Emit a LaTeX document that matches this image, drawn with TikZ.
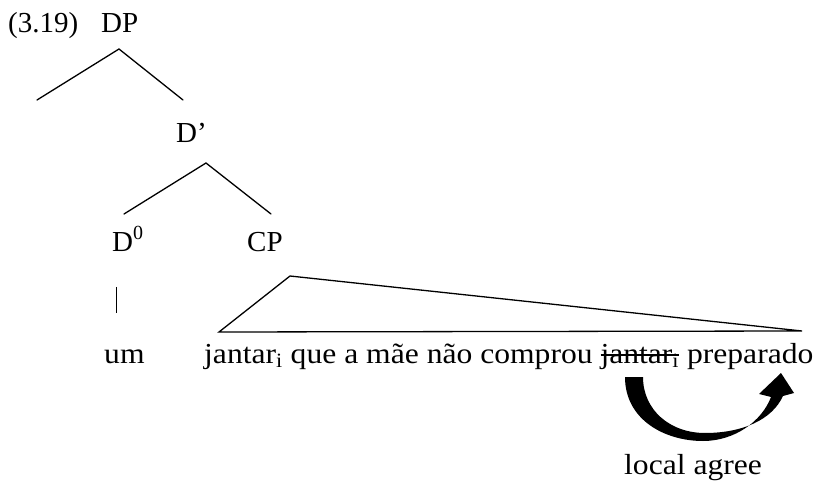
\documentclass[tikz,border=0pt]{standalone}
\usepackage{fontspec}
\setmainfont{Liberation Serif}
\newfontfamily\widefont{Liberation Serif}[FakeStretch=1.09]
\newsavebox\mystrikebox
\newcommand\mystrike[1]{\sbox\mystrikebox{#1}\rlap{\rule[7.5pt]{\wd\mystrikebox}{1.2pt}}\usebox\mystrikebox}
\begin{document}
\begin{tikzpicture}[x=1pt,y=-1pt,
  lbl/.style={inner sep=0pt, anchor=base west, font=\fontsize{29}{34}\selectfont},
  sent/.style={inner sep=0pt, anchor=base west, font=\fontsize{29}{34}\widefont},
  branch/.style={line width=1.3pt, line cap=round},
  bigarrow/.style={fill=black, draw=none},
]
\useasboundingbox (0,0) rectangle (817,481);

% labels
\node[lbl] (ex) at (8,33) {(3.19)};
\node[lbl] (dp) at (101,33) {DP};
\node[lbl] (dbar) at (176,143) {D’};
\node[lbl] (d0) at (112,252) {D\raisebox{12pt}{\fontsize{20}{20}\selectfont 0}};
\node[lbl] (cp) at (247,252) {CP};
\node[sent] (um) at (104,363) {um};
\node[sent] (sentence) at (204,363) {jantar\textsubscript{i} que a mãe não comprou \mystrike{jantar\textsubscript{i}} preparado};
\node[sent] (agree) at (624,474) {local agree};

% branch points
\coordinate (dpTop) at (119,49);
\coordinate (dpL) at (37,100);
\coordinate (dpR) at (183,100);
\coordinate (dbTop) at (206,163);
\coordinate (dbL) at (124,214);
\coordinate (dbR) at (271,214);
\coordinate (barT) at (116,287);
\coordinate (barB) at (116,313);
\coordinate (triL) at (219,332);
\coordinate (triA) at (290,276);
\coordinate (triR) at (802,331);

\draw[branch] (dpL) -- (dpTop) -- (dpR);
\draw[branch] (dbL) -- (dbTop) -- (dbR);
\draw[line width=1pt] (barT) -- (barB);
\draw[branch, line join=miter] (triL) -- (triA) -- (triR) -- cycle;

% curved agreement arrow
\fill[bigarrow] (625,377) .. controls (625,420) and (665,441) .. (703,441)
  .. controls (735,441) and (762,421) .. (771,397)
  -- (759,394) -- (781,373) -- (794,393) -- (783,396)
  .. controls (772,420) and (742,433) .. (705,433)
  .. controls (670,433) and (643,410) .. (643,377) -- cycle;
\end{tikzpicture}
\end{document}
